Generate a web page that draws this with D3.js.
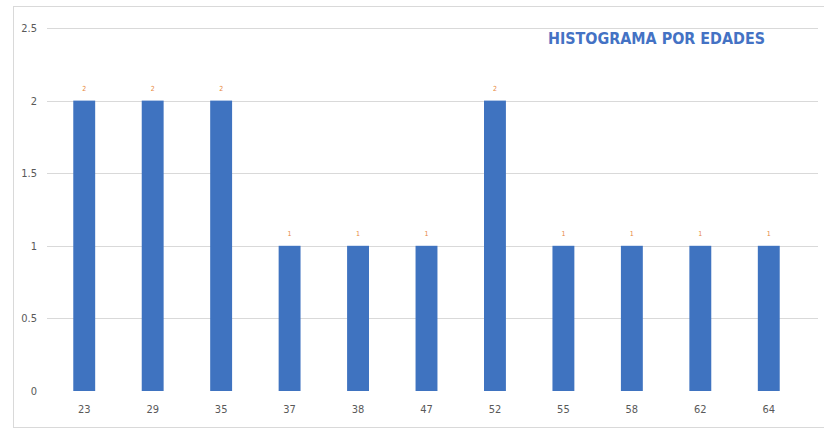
<!DOCTYPE html>
<html>
<head>
<meta charset="utf-8">
<script src="https://cdn.jsdelivr.net/npm/d3@7"></script>
<style>
  html, body { margin: 0; padding: 0; background: #ffffff; }
  svg { display: block; }
</style>
</head>
<body>
<svg id="chart" width="824" height="433"></svg>
<script>
const categories = ["23", "29", "35", "37", "38", "47", "52", "55", "58", "62", "64"];
const values = [2, 2, 2, 1, 1, 1, 2, 1, 1, 1, 1];
const yTicks = [0, 0.5, 1, 1.5, 2, 2.5];
const yTickLabels = ["0", "0.5", "1", "1.5", "2", "2.5"];
const title = "HISTOGRAMA POR EDADES";

const svg = d3.select("#chart");
const plot = { left: 50, right: 803, top: 28, bottom: 391 };
const gridRight = 818;
const condensed = "'DejaVu Sans Condensed', 'Liberation Sans Narrow', 'Roboto Condensed', sans-serif";

// chart frame
svg.append("rect")
  .attr("x", 13.5).attr("y", 6.5)
  .attr("width", 830).attr("height", 421)
  .attr("fill", "none").attr("stroke", "#d9d9d9").attr("stroke-width", 1);

const x = d3.scaleBand().domain(categories).range([plot.left, plot.right]).paddingInner(0.68).paddingOuter(0.34);
const y = d3.scaleLinear().domain([0, 2.5]).range([plot.bottom, plot.top]);

// gridlines
svg.append("g").selectAll("line").data(yTicks.filter(d => d > 0)).join("line")
  .attr("x1", 47).attr("x2", gridRight)
  .attr("y1", d => Math.round(y(d)) + 0.5).attr("y2", d => Math.round(y(d)) + 0.5)
  .attr("stroke", "#d9d9d9").attr("stroke-width", 1.2);

// y axis labels
const yAxis = d3.axisLeft(y).tickValues(yTicks).tickFormat((d, i) => yTickLabels[i]).tickSize(0).tickPadding(0);
const gy = svg.append("g").attr("transform", "translate(37,0)").call(yAxis);
gy.select(".domain").remove();
gy.selectAll("text")
  .attr("font-family", condensed)
  .attr("font-size", 11).attr("fill", "#595959");

// x axis labels
const xAxis = d3.axisBottom(x).tickSize(0).tickPadding(0);
const gx = svg.append("g").attr("transform", `translate(0,${plot.bottom + 14})`).call(xAxis);
gx.select(".domain").remove();
gx.selectAll("text")
  .attr("font-family", condensed)
  .attr("font-size", 11).attr("fill", "#595959");

// bars
const data = categories.map((c, i) => ({ c, v: values[i] }));
svg.append("g").selectAll("rect").data(data).join("rect")
  .attr("x", d => x(d.c))
  .attr("y", d => y(d.v))
  .attr("width", x.bandwidth())
  .attr("height", d => y(0) - y(d.v))
  .attr("fill", "#3f73c0");

// data labels
svg.append("g").selectAll("text").data(data).join("text")
  .attr("x", d => x(d.c) + x.bandwidth() / 2)
  .attr("y", d => y(d.v) - 10)
  .attr("text-anchor", "middle")
  .attr("font-family", condensed)
  .attr("font-size", 7).attr("fill", "#e8883a")
  .text(d => d.v);

// title
svg.append("text")
  .attr("x", 548).attr("y", 44)
  .attr("font-family", condensed)
  .attr("font-weight", "bold")
  .attr("font-size", 16)
  .attr("fill", "#4472c4")
  .attr("textLength", 217)
  .attr("lengthAdjust", "spacingAndGlyphs")
  .text(title);
</script>
</body>
</html>
